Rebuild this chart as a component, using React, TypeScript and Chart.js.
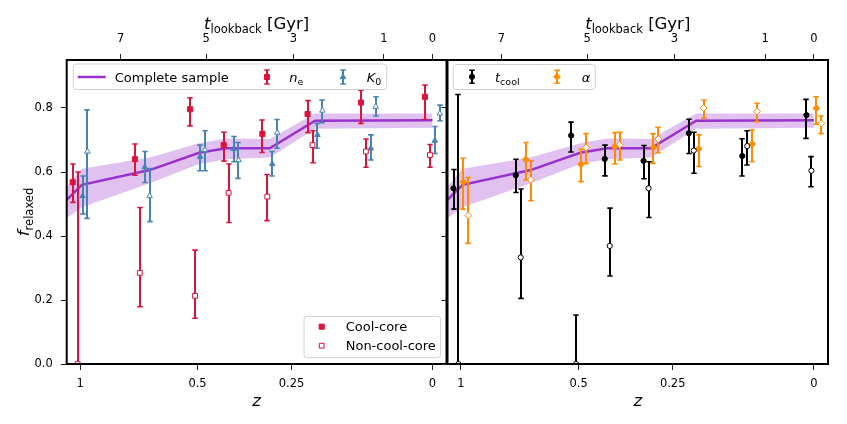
import React, { useEffect, useRef } from "react";
import { Chart, registerables } from "chart.js";

Chart.register(...registerables);

// ---------- data ----------
const zBins = [1.0, 0.7, 0.5, 0.4, 0.3, 0.2, 0.1, 0.0];

const zTickValues = [1, 0.5, 0.25, 0];
const zTickLabels = ["1", "0.5", "0.25", "0"];
const lookbackTickLabels = ["7", "5", "3", "1", "0"];
const lookbackTickZ = [0.794, 0.473, 0.246, 0.074, 0.0];
const yTickValues = [0, 0.2, 0.4, 0.6, 0.8];

// complete sample (line + band)
const completeZ = [1.13, 0.99, 0.67, 0.495, 0.414, 0.3, 0.2, 0.0];
const completeF = [0.488, 0.56, 0.606, 0.66, 0.674, 0.674, 0.76, 0.762];
const completeHi = [0.525, 0.61, 0.645, 0.69, 0.705, 0.703, 0.783, 0.783];
const completeLo = [0.437, 0.49, 0.565, 0.625, 0.64, 0.645, 0.735, 0.738];

// left panel: n_e and K_0
const neCC = [0.568, 0.64, 0.796, 0.684, 0.719, 0.781, 0.817, 0.835];
const neCCLo = [0.505, 0.59, 0.744, 0.634, 0.661, 0.723, 0.752, 0.764];
const neCCHi = [0.625, 0.6875, 0.832, 0.724, 0.7625, 0.823, 0.856, 0.872];
const neNCC = [0.0, 0.285, 0.213, 0.535, 0.523, 0.684, 0.664, 0.653];
const neNCCLo = [0.0, 0.179, 0.143, 0.442, 0.448, 0.629, 0.615, 0.615];
const neNCCHi = [0.6, 0.489, 0.356, 0.625, 0.592, 0.729, 0.703, 0.686];
const k0CC = [0.525, 0.615, 0.648, 0.672, 0.625, 0.716, 0.674, 0.698];
const k0CCLo = [0.469, 0.567, 0.604, 0.632, 0.5875, 0.674, 0.6375, 0.658];
const k0CCHi = [0.5875, 0.664, 0.684, 0.711, 0.664, 0.752, 0.716, 0.742];
const k0NCC = [0.664, 0.525, 0.669, 0.6375, 0.723, 0.792, 0.804, 0.783];
const k0NCCLo = [0.455, 0.445, 0.604, 0.58, 0.674, 0.754, 0.775, 0.76];
const k0NCCHi = [0.794, 0.611, 0.729, 0.692, 0.764, 0.825, 0.835, 0.809];

// right panel: t_cool and alpha
const tcCC = [0.549, 0.59, 0.714, 0.641, 0.635, 0.721, 0.65, 0.778];
const tcCCLo = [0.484, 0.536, 0.6625, 0.588, 0.579, 0.658, 0.5875, 0.705];
const tcCCHi = [0.608, 0.64, 0.756, 0.684, 0.683, 0.765, 0.704, 0.827];
const tcNCC = [0.0, 0.333, 0.0, 0.369, 0.549, 0.667, 0.681, 0.604];
const tcNCCLo = [0.0, 0.205, 0.0, 0.275, 0.458, 0.596, 0.622, 0.554];
const tcNCCHi = [0.842, 0.547, 0.153, 0.487, 0.632, 0.724, 0.729, 0.648];
const alCC = [0.568, 0.639, 0.624, 0.679, 0.677, 0.672, 0.6875, 0.799];
const alCCLo = [0.484, 0.575, 0.57, 0.625, 0.627, 0.617, 0.632, 0.749];
const alCCHi = [0.643, 0.692, 0.671, 0.723, 0.719, 0.716, 0.731, 0.835];
const alNCC = [0.464, 0.576, 0.677, 0.685, 0.703, 0.8, 0.789, 0.752];
const alNCCLo = [0.377, 0.51, 0.627, 0.6375, 0.66, 0.768, 0.757, 0.72];
const alNCCHi = [0.583, 0.635, 0.72, 0.724, 0.74, 0.825, 0.815, 0.775];

// ---------- styling ----------
const FONT = '"DejaVu Sans", sans-serif';
const CRIMSON = "#DC143C";
const STEEL = "#4682B4";
const ORANGE = "#FF8C00";
const BLACK = "#000000";
const PURPLE = "#9932CC";
const BAND = "rgba(153,50,204,0.3)";
const A_MIN = 0.481;
const A_MAX = 1.02;

const toA = (z: number) => 1 / (1 + z);

function drawMarker(ctx: CanvasRenderingContext2D, style: string, x: number, y: number, r: number, fill: string, stroke: string, lw: number) {
  ctx.beginPath();
  if (style === "rect") {
    const s = r * Math.SQRT1_2;
    ctx.rect(x - s, y - s, 2 * s, 2 * s);
  } else if (style === "circle") {
    ctx.arc(x, y, r, 0, Math.PI * 2);
  } else if (style === "triangle") {
    for (let k = 0; k < 3; k++) {
      const ang = (k * 2 * Math.PI) / 3;
      const px = x + Math.sin(ang) * r;
      const py = y - Math.cos(ang) * r;
      if (k === 0) ctx.moveTo(px, py);
      else ctx.lineTo(px, py);
    }
    ctx.closePath();
  } else if (style === "rectRot") {
    ctx.moveTo(x, y - r);
    ctx.lineTo(x + r, y);
    ctx.lineTo(x, y + r);
    ctx.lineTo(x - r, y);
    ctx.closePath();
  }
  ctx.fillStyle = fill;
  ctx.fill();
  if (lw > 0) {
    ctx.lineWidth = lw;
    ctx.strokeStyle = stroke;
    ctx.stroke();
  }
}

function drawErrBar(ctx: CanvasRenderingContext2D, xRaw: number, y1: number, y2: number, color: string) {
  const x = Math.round(xRaw);
  ctx.strokeStyle = color;
  ctx.lineCap = "butt";
  ctx.lineWidth = 2;
  ctx.beginPath();
  ctx.moveTo(x, y1);
  ctx.lineTo(x, y2);
  ctx.stroke();
  ctx.lineWidth = 1.6;
  ctx.beginPath();
  ctx.moveTo(x - 2.7, y1);
  ctx.lineTo(x + 2.7, y1);
  ctx.moveTo(x - 2.7, y2);
  ctx.lineTo(x + 2.7, y2);
  ctx.stroke();
}

type Part = { t: string; s: number; i?: boolean; dy?: number };
function mathText(ctx: CanvasRenderingContext2D, parts: Part[], x: number, y: number, align: string) {
  let total = 0;
  const widths = parts.map((p) => {
    ctx.font = `${p.i ? "italic " : ""}${p.s}px ${FONT}`;
    const w = ctx.measureText(p.t).width;
    total += w;
    return w;
  });
  let cx = align === "center" ? x - total / 2 : align === "right" ? x - total : x;
  ctx.textAlign = "left";
  ctx.textBaseline = "alphabetic";
  parts.forEach((p, k) => {
    ctx.font = `${p.i ? "italic " : ""}${p.s}px ${FONT}`;
    ctx.fillText(p.t, cx, y + (p.dy || 0));
    cx += widths[k];
  });
}

function legendBox(ctx: CanvasRenderingContext2D, x: number, y: number, w: number, h: number) {
  const r = 3;
  ctx.beginPath();
  ctx.moveTo(x + r, y);
  ctx.arcTo(x + w, y, x + w, y + h, r);
  ctx.arcTo(x + w, y + h, x, y + h, r);
  ctx.arcTo(x, y + h, x, y, r);
  ctx.arcTo(x, y, x + w, y, r);
  ctx.closePath();
  ctx.fillStyle = "rgba(255,255,255,0.8)";
  ctx.fill();
  ctx.lineWidth = 1;
  ctx.strokeStyle = "#d0d0d0";
  ctx.stroke();
}

function series(label: string, vals: number[], lo: number[], hi: number[], dodge: number, style: string, r: number, color: string, open: boolean) {
  return {
    type: "scatter",
    label,
    data: zBins.map((z, i) => ({ x: toA(z) + dodge, y: vals[i] })),
    errLo: lo,
    errHi: hi,
    errColor: color,
    pointStyle: style,
    pointRadius: r,
    pointHoverRadius: r,
    pointBackgroundColor: open ? "#ffffff" : color,
    pointBorderColor: color,
    pointBorderWidth: 1,
    showLine: false,
  };
}

function sampleDatasets() {
  const pts = (ys: number[]) => completeZ.map((z, i) => ({ x: toA(z), y: ys[i] }));
  return [
    { type: "line", label: "Complete sample", data: pts(completeF), borderColor: PURPLE, borderWidth: 2.5, pointRadius: 0, fill: false, tension: 0, clip: 0 },
    { type: "line", label: "upper", data: pts(completeHi), borderColor: "rgba(0,0,0,0)", borderWidth: 0, pointRadius: 0, fill: "+1", backgroundColor: BAND, tension: 0, clip: 0 },
    { type: "line", label: "lower", data: pts(completeLo), borderColor: "rgba(0,0,0,0)", borderWidth: 0, pointRadius: 0, fill: false, tension: 0, clip: 0 },
  ];
}

const errorBarPlugin = {
  id: "errbars",
  beforeDatasetDraw(chart: any, args: any) {
    const ds = chart.data.datasets[args.index];
    if (!ds.errLo) return;
    const ctx = chart.ctx;
    const xs = chart.scales.x;
    const ys = chart.scales.y;
    ctx.save();
    ds.data.forEach((p: any, i: number) => {
      const px = xs.getPixelForValue(p.x);
      drawErrBar(ctx, px, ys.getPixelForValue(ds.errLo[i]), ys.getPixelForValue(ds.errHi[i]), ds.errColor);
    });
    ctx.restore();
  },
};

type PanelCfg = {
  left: number;
  width: number;
  yWidth: number;
  padRight: number;
  yLabels: boolean;
  datasets: any[];
  legend: (ctx: CanvasRenderingContext2D, off: number) => void;
};

function leftLegend(ctx: CanvasRenderingContext2D, off: number) {
  legendBox(ctx, 73.3 - off, 64, 313.4, 25.5);
  ctx.strokeStyle = PURPLE;
  ctx.lineWidth = 2.5;
  ctx.beginPath();
  ctx.moveTo(77.7 - off, 77);
  ctx.lineTo(105.7 - off, 77);
  ctx.stroke();
  ctx.fillStyle = "#000";
  mathText(ctx, [{ t: "Complete sample", s: 13 }], 114.7 - off, 81.8, "left");
  drawErrBar(ctx, 266.7 - off, 70, 84, CRIMSON);
  drawMarker(ctx, "rect", 267 - off, 77, 3.6, CRIMSON, CRIMSON, 1);
  ctx.fillStyle = "#000";
  mathText(ctx, [{ t: "n", s: 13, i: true }, { t: "e", s: 9.5, dy: 2.8 }], 289.3 - off, 81.8, "left");
  drawErrBar(ctx, 342.7 - off, 70, 84, STEEL);
  drawMarker(ctx, "triangle", 343 - off, 77, 3.2, STEEL, STEEL, 1);
  ctx.fillStyle = "#000";
  mathText(ctx, [{ t: "K", s: 13, i: true }, { t: "0", s: 9.5, dy: 2.8 }], 366.7 - off, 81.8, "left");

  legendBox(ctx, 304 - off, 316.3, 136.7, 41.4);
  drawMarker(ctx, "rect", 321.7 - off, 326.7, 3.6, CRIMSON, CRIMSON, 1);
  drawMarker(ctx, "rect", 321.7 - off, 345.7, 3.4, "#ffffff", CRIMSON, 1);
  ctx.fillStyle = "#000";
  mathText(ctx, [{ t: "Cool-core", s: 13 }], 345.7 - off, 331.3, "left");
  mathText(ctx, [{ t: "Non-cool-core", s: 13 }], 345.7 - off, 350.3, "left");
}

function rightLegend(ctx: CanvasRenderingContext2D, off: number) {
  legendBox(ctx, 453.3 - off, 64.5, 142, 25);
  drawErrBar(ctx, 471.7 - off, 70.3, 83.3, BLACK);
  drawMarker(ctx, "circle", 472 - off, 76.8, 2.6, BLACK, BLACK, 1);
  ctx.fillStyle = "#000";
  mathText(ctx, [{ t: "t", s: 13, i: true }, { t: "cool", s: 9.5, dy: 2.8 }], 495 - off, 81.8, "left");
  drawErrBar(ctx, 557.3 - off, 70.3, 83.3, ORANGE);
  drawMarker(ctx, "rectRot", 557 - off, 76.8, 3.4, ORANGE, ORANGE, 1);
  ctx.fillStyle = "#000";
  mathText(ctx, [{ t: "\u03B1", s: 13, i: true }], 581.7 - off, 81.8, "left");
}

function buildConfig(cfg: PanelCfg) {
  const tickFont = { family: FONT, size: 11.5 };
  const grid = { drawOnChartArea: false, drawTicks: true, tickLength: 6, color: "#222", lineWidth: 1 };
  const decor = {
    id: "decor",
    afterDraw(chart: any) {
      const ctx = chart.ctx as CanvasRenderingContext2D;
      const a = chart.chartArea;
      const off = cfg.left;
      ctx.save();
      ctx.strokeStyle = "#000";
      ctx.lineWidth = 2;
      ctx.strokeRect(a.left, a.top, a.right - a.left, a.bottom - a.top);
      const cx = (a.left + a.right) / 2;
      ctx.fillStyle = "#000";
      mathText(ctx, [{ t: "t", s: 16.5, i: true }, { t: "lookback", s: 11.5, dy: 3.2 }, { t: " [Gyr]", s: 16.5 }], cx, 29.3, "center");
      mathText(ctx, [{ t: "z", s: 16.5, i: true }], cx, 406, "center");
      if (cfg.yLabels) {
        ctx.save();
        ctx.translate(28.5 - off, (a.top + a.bottom) / 2);
        ctx.rotate(-Math.PI / 2);
        mathText(ctx, [{ t: "f", s: 16.5, i: true }, { t: "relaxed", s: 11.5, dy: 4 }], 0, 0, "center");
        ctx.restore();
      }
      cfg.legend(ctx, off);
      ctx.restore();
    },
  };
  return {
    type: "scatter",
    data: { datasets: cfg.datasets },
    options: {
      responsive: false,
      animation: false,
      devicePixelRatio: 1,
      layout: { padding: { left: 0, right: cfg.padRight, top: 0, bottom: 0 } },
      plugins: { legend: { display: false }, tooltip: { enabled: false } },
      scales: {
        x: {
          type: "linear",
          position: "bottom",
          min: A_MIN,
          max: A_MAX,
          afterBuildTicks: (s: any) => {
            s.ticks = zTickValues.map((z) => ({ value: toA(z) }));
          },
          afterFit: (s: any) => {
            s.height = 60;
          },
          ticks: { callback: (_v: any, i: number) => zTickLabels[i], font: tickFont, color: "#000", padding: 7, maxRotation: 0, autoSkip: false },
          grid,
          border: { display: false },
        },
        x2: {
          type: "linear",
          position: "top",
          min: A_MIN,
          max: A_MAX,
          afterBuildTicks: (s: any) => {
            s.ticks = lookbackTickZ.map((z) => ({ value: toA(z) }));
          },
          afterFit: (s: any) => {
            s.height = 60;
          },
          ticks: { callback: (_v: any, i: number) => lookbackTickLabels[i], font: tickFont, color: "#000", padding: 8, maxRotation: 0, autoSkip: false },
          grid,
          border: { display: false },
        },
        y: {
          type: "linear",
          position: "left",
          min: 0,
          max: 0.95,
          afterBuildTicks: (s: any) => {
            s.ticks = yTickValues.map((v) => ({ value: v }));
          },
          afterFit: (s: any) => {
            s.width = cfg.yWidth;
          },
          ticks: {
            callback: (v: any) => Number(v).toFixed(1),
            font: tickFont,
            color: cfg.yLabels ? "#000" : "rgba(0,0,0,0)",
            padding: 8,
            autoSkip: false,
          },
          grid,
          border: { display: false },
        },
      },
    },
    plugins: [errorBarPlugin, decor],
  };
}

const leftPanel: PanelCfg = {
  left: 0,
  width: 460,
  yWidth: 66.7,
  padRight: 460 - 446.5,
  yLabels: true,
  datasets: [
    series("ne CC", neCC, neCCLo, neCCHi, -0.0105, "rect", 3.6, CRIMSON, false),
    series("ne NCC", neNCC, neNCCLo, neNCCHi, -0.0035, "rect", 3.4, CRIMSON, true),
    series("K0 CC", k0CC, k0CCLo, k0CCHi, 0.0035, "triangle", 3.2, STEEL, false),
    series("K0 NCC", k0NCC, k0NCCLo, k0NCCHi, 0.0105, "triangle", 3.2, STEEL, true),
    ...sampleDatasets(),
  ],
  legend: leftLegend,
};

const rightPanel: PanelCfg = {
  left: 440,
  width: 407,
  yWidth: 7.5,
  padRight: 407 - (828 - 440),
  yLabels: false,
  datasets: [
    series("tcool CC", tcCC, tcCCLo, tcCCHi, -0.0105, "circle", 2.6, BLACK, false),
    series("tcool NCC", tcNCC, tcNCCLo, tcNCCHi, -0.0035, "circle", 2.6, BLACK, true),
    series("alpha CC", alCC, alCCLo, alCCHi, 0.0035, "rectRot", 3.4, ORANGE, false),
    series("alpha NCC", alNCC, alNCCLo, alNCCHi, 0.0105, "rectRot", 3.4, ORANGE, true),
    ...sampleDatasets(),
  ],
  legend: rightLegend,
};

function Panel({ cfg }: { cfg: PanelCfg }) {
  const ref = useRef<HTMLCanvasElement | null>(null);
  useEffect(() => {
    if (!ref.current) return;
    const chart = new Chart(ref.current, buildConfig(cfg) as any);
    return () => chart.destroy();
  }, [cfg]);
  return (
    <canvas
      ref={ref}
      width={cfg.width}
      height={424}
      style={{ position: "absolute", left: cfg.left, top: 0, width: cfg.width, height: 424 }}
    />
  );
}

export default function App() {
  return (
    <div style={{ position: "absolute", left: 0, top: 0, width: 847, height: 424, background: "#ffffff", overflow: "hidden" }}>
      <Panel cfg={leftPanel} />
      <Panel cfg={rightPanel} />
    </div>
  );
}
